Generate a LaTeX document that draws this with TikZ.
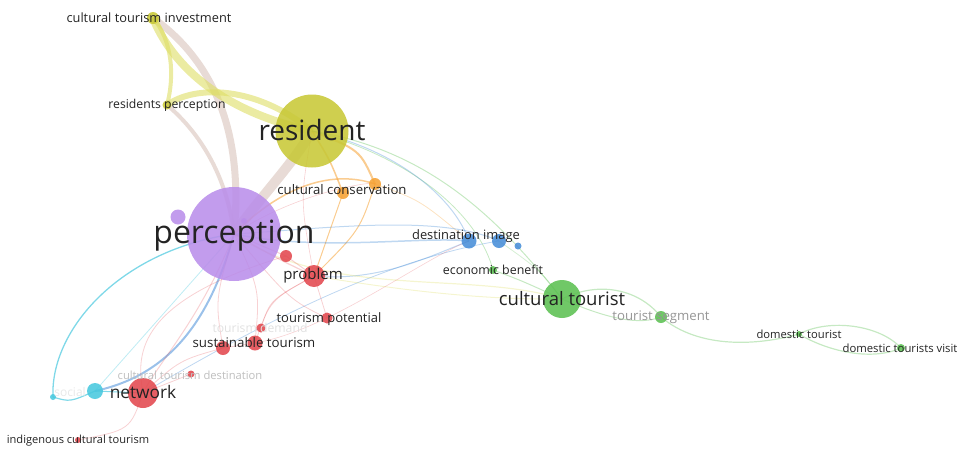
\documentclass[tikz,border=0pt]{standalone}
\usepackage{fontspec}
\setmainfont{Open Sans}
\usetikzlibrary{backgrounds}
\definecolor{cY}{RGB}{200,200,55}
\definecolor{cYe}{RGB}{222,222,100}
\definecolor{cBeige}{RGB}{220,200,192}
\definecolor{cP}{RGB}{186,142,234}
\definecolor{cR}{RGB}{226,72,78}
\definecolor{cG}{RGB}{92,192,82}
\definecolor{cB}{RGB}{72,142,216}
\definecolor{cC}{RGB}{72,200,222}
\definecolor{cO}{RGB}{246,162,52}
\definecolor{txt}{RGB}{35,35,35}
\begin{document}
\begin{tikzpicture}[x=1pt,y=-1pt,
  bub/.style={circle,inner sep=0pt,minimum size=#1,draw=none,fill opacity=0.88},
  lbl/.style={text=txt,inner sep=0pt,anchor=center,font=\fontsize{#1}{#1}\selectfont},
  eY/.style={draw=cYe,opacity=0.6},
  eBe/.style={draw=cBeige,opacity=0.65},
  eR/.style={draw=cR,opacity=0.25},
  eG/.style={draw=cG,opacity=0.35},
  eB/.style={draw=cB,opacity=0.35},
  eC/.style={draw=cC,opacity=0.7},
  eO/.style={draw=cO,opacity=0.55},
  eF/.style={draw=cYe,opacity=0.3}]
\useasboundingbox (0,0) rectangle (960,448);
% nodes
\node[bub=12pt,fill=cY] (inv) at (153,18) {};
\node[bub=9pt,fill=cY] (rp) at (167,105) {};
\node[bub=73pt,fill=cY] (res) at (312,131) {};
\node[bub=94pt,fill=cP] (per) at (234,234) {};
\node[bub=15pt,fill=cP] (p2) at (178,217) {};
\node[bub=6pt,fill=cP] (p3) at (244,221) {};
\node[bub=12pt,fill=cO] (co1) at (343,193) {};
\node[bub=12pt,fill=cO] (co2) at (375,184) {};
\node[bub=15pt,fill=cB] (di1) at (469,241) {};
\node[bub=14pt,fill=cB] (di2) at (499,241) {};
\node[bub=7pt,fill=cB] (di3) at (518,246) {};
\node[bub=8pt,fill=cG] (eb) at (493,270) {};
\node[bub=38pt,fill=cG] (ct) at (562,299) {};
\node[bub=12pt,fill=cG] (ts) at (661,317) {};
\node[bub=6pt,fill=cG] (dt) at (799,334) {};
\node[bub=8pt,fill=cG] (dtv) at (901,348) {};
\node[bub=22pt,fill=cR] (pr) at (314,276) {};
\node[bub=12pt,fill=cR] (pr2) at (286,256) {};
\node[bub=11pt,fill=cR] (tp) at (327,318) {};
\node[bub=9pt,fill=cR] (td) at (261,328) {};
\node[bub=14pt,fill=cR] (st1) at (223,348) {};
\node[bub=15pt,fill=cR] (st2) at (255,343) {};
\node[bub=7pt,fill=cR] (ctd) at (191,374) {};
\node[bub=30pt,fill=cR] (net) at (143,393) {};
\node[bub=16pt,fill=cC] (soc) at (95,391) {};
\node[bub=6pt,fill=cC] (soc2) at (53,397) {};
\node[bub=6pt,fill=cR] (ict) at (78,440) {};
% edges
\begin{pgfonlayer}{background}
\draw[eBe,line width=7pt] (inv.center) .. controls (205,55) and (245,120) .. (per.center);
\draw[eY,line width=8pt] (inv.center) .. controls (170,60) and (215,110) .. (res.center);
\draw[eY,line width=4pt] (inv.center) .. controls (172,40) and (175,75) .. (rp.center);
\draw[eY,line width=6pt] (rp.center) .. controls (195,85) and (255,85) .. (res.center);
\draw[eBe,line width=4pt] (rp.center) .. controls (185,120) and (225,160) .. (per.center);
\draw[eBe,line width=10pt] (res.center) .. controls (292,165) and (262,195) .. (per.center);
\draw[eO,line width=1.5pt] (res.center) .. controls (330,160) .. (co1.center);
\draw[eO,line width=2pt] (res.center) .. controls (360,150) .. (co2.center);
\draw[eO,line width=1.5pt] (per.center) .. controls (290,178) and (340,172) .. (co2.center);
\draw[eO,line width=1pt] (co1.center) .. controls (330,230) .. (pr.center);
\draw[eO,line width=1pt] (co2.center) .. controls (360,230) .. (pr.center);
\draw[eO,line width=0.8pt,opacity=0.3] (co2.center) .. controls (420,200) .. (di1.center);
\draw[eG,line width=1pt] (res.center) .. controls (430,150) and (500,220) .. (ct.center);
\draw[eG,line width=0.8pt] (res.center) .. controls (420,160) and (480,220) .. (eb.center);
\draw[eB,line width=1pt] (res.center) .. controls (400,150) and (455,200) .. (di1.center);
\draw[eB,line width=1.5pt] (per.center) .. controls (320,252) and (420,236) .. (di1.center);
\draw[eB,line width=1pt] (per.center) .. controls (330,228) and (440,214) .. (di2.center);
\draw[eB,line width=1pt] (pr.center) .. controls (380,282) and (430,256) .. (di1.center);
\draw[eB,line width=0.8pt] (net.center) .. controls (250,330) and (380,260) .. (di2.center);
\draw[eF,line width=1.2pt] (per.center) .. controls (330,300) and (470,270) .. (ct.center);
\draw[eF,line width=1pt] (pr.center) .. controls (400,290) and (480,300) .. (ct.center);
\draw[eG,line width=1pt] (eb.center) .. controls (520,280) .. (ct.center);
\draw[eG,line width=0.8pt,opacity=0.25] (di2.center) .. controls (540,270) .. (ct.center);
\draw[eG,line width=1.2pt] (ct.center) .. controls (600,280) and (640,290) .. (ts.center);
\draw[eG,line width=1pt] (ct.center) .. controls (610,320) and (640,325) .. (ts.center);
\draw[eG,line width=1.2pt] (ts.center) .. controls (700,350) and (760,345) .. (dt.center);
\draw[eG,line width=1.2pt] (dt.center) .. controls (830,318) and (880,325) .. (dtv.center);
\draw[eG,line width=1.2pt] (dt.center) .. controls (825,350) and (870,362) .. (dtv.center);
% cyan / blue to network area
\draw[draw=cB,opacity=0.55,line width=2pt] (per.center) .. controls (210,320) and (170,375) .. (soc.center);
\draw[eC,line width=1.3pt] (per.center) .. controls (120,250) and (50,330) .. (soc2.center);
\draw[eC,line width=1.2pt] (soc2.center) .. controls (70,402) .. (soc.center);
\draw[eC,line width=0.8pt,opacity=0.35] (per.center) -- (soc.center);
\draw[eC,line width=1pt] (soc.center) -- (net.center);
% red
\draw[eR,line width=1pt] (per.center) -- (pr2.center);
\draw[eR,line width=1.2pt] (per.center) .. controls (280,260) .. (pr.center);
\draw[eR,line width=1pt] (pr2.center) -- (pr.center);
\draw[eR,line width=1pt] (per.center) .. controls (200,320) and (160,360) .. (net.center);
\draw[eR,line width=0.8pt] (per.center) .. controls (260,290) .. (st2.center);
\draw[eR,line width=0.8pt] (per.center) .. controls (290,300) .. (tp.center);
\draw[eR,line width=0.8pt] (per.center) .. controls (215,300) .. (st1.center);
\draw[eR,line width=0.8pt] (pr.center) .. controls (270,300) .. (st2.center);
\draw[eR,line width=0.8pt] (pr.center) -- (tp.center);
\draw[eR,line width=0.8pt] (pr.center) .. controls (270,300) .. (td.center);
\draw[eR,line width=0.8pt] (st1.center) -- (st2.center);
\draw[eR,line width=0.8pt] (net.center) .. controls (180,360) .. (st1.center);
\draw[eR,line width=0.8pt] (net.center) -- (ctd.center);
\draw[eR,line width=0.8pt] (net.center) .. controls (130,430) .. (ict.center);
\draw[eR,line width=0.8pt] (pr2.center) .. controls (140,300) and (135,350) .. (net.center);
\draw[eR,line width=0.6pt] (res.center) .. controls (300,200) .. (pr.center);
\draw[eR,line width=0.6pt] (per.center) .. controls (300,190) and (380,180) .. (co2.center);
\draw[eR,line width=0.6pt] (st2.center) .. controls (330,330) and (420,260) .. (di1.center);
\end{pgfonlayer}
% labels
\node[lbl=12.8] (l-inv) at (149,18) {cultural tourism investment};
\node[lbl=12.2] (l-rp) at (167,105) {residents perception};
\node[lbl=28] (l-res) at (312,130) {resident};
\node[lbl=32] (l-per) at (234,236) {perception};
\node[lbl=13.2] (l-co) at (342,190) {cultural conservation};
\node[lbl=12.9] (l-di) at (466,236) {destination image};
\node[lbl=12.4] (l-eb) at (493,270) {economic benefit};
\node[lbl=18.5] (l-ct) at (562,299) {cultural tourist};
\node[lbl=13.2,text={rgb,255:red,150;green,150;blue,150}] (l-ts) at (661,317) {tourist segment};
\node[lbl=11.2] (l-dt) at (799,334) {domestic tourist};
\node[lbl=11.3] (l-dtv) at (900,348) {domestic tourists visit};
\node[lbl=15] (l-pr) at (313,276) {problem};
\node[lbl=13] (l-tp) at (329,319) {tourism potential};
\node[lbl=12.2,text={rgb,255:red,225;green,225;blue,225}] (l-td) at (260,328) {tourism demand};
\node[lbl=13.3] (l-st) at (254,343) {sustainable tourism};
\node[lbl=11.2,text={rgb,255:red,190;green,190;blue,190}] (l-ctd) at (190,375) {cultural tourism destination};
\node[lbl=17.3] (l-net) at (143,392) {network};
\node[lbl=12,text={rgb,255:red,232;green,232;blue,232}] (l-soc) at (70,392) {social};
\node[lbl=11.1] (l-ict) at (78,441) {indigenous cultural tourism};
\end{tikzpicture}
\end{document}
